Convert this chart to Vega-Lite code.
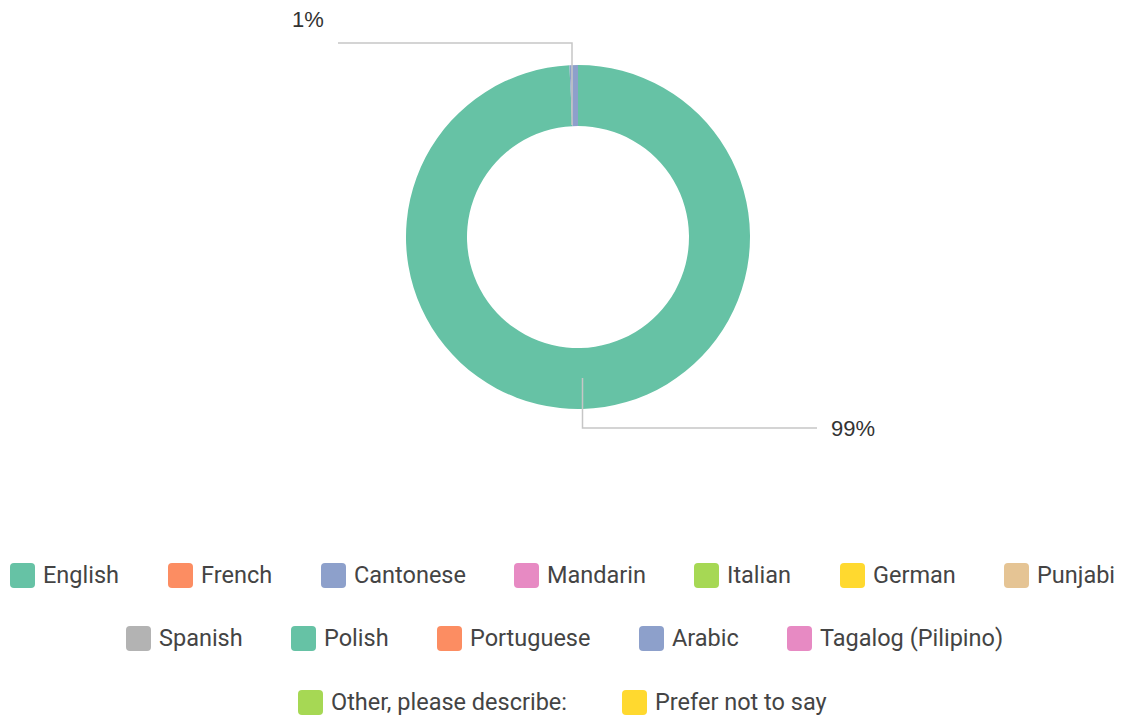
{
  "$schema": "https://vega.github.io/schema/vega-lite/v6.json",
  "width": 1125,
  "height": 717,
  "padding": 0,
  "autosize": {"type": "none"},
  "background": "white",
  "config": {
    "view": {"stroke": null},
    "legend": {
      "orient": "none",
      "direction": "horizontal",
      "title": null,
      "padding": 0,
      "symbolType": "M-0.68,-1H0.68Q1,-1 1,-0.68V0.68Q1,1 0.68,1H-0.68Q-1,1 -1,0.68V-0.68Q-1,-1 -0.68,-1Z",
      "symbolSize": 625,
      "symbolOpacity": 1,
      "symbolStrokeWidth": 0,
      "labelFont": "Roboto",
      "labelFontSize": 23.5,
      "labelColor": "#444444",
      "labelOffset": 8,
      "labelLimit": 0,
      "columnPadding": 48
    }
  },
  "datasets": {
    "languages": [
      {"language": "English", "share": 99.2},
      {"language": "French", "share": 0},
      {"language": "Cantonese", "share": 0.8},
      {"language": "Mandarin", "share": 0},
      {"language": "Italian", "share": 0},
      {"language": "German", "share": 0},
      {"language": "Punjabi", "share": 0},
      {"language": "Spanish", "share": 0},
      {"language": "Polish", "share": 0},
      {"language": "Portuguese", "share": 0},
      {"language": "Arabic", "share": 0},
      {"language": "Tagalog (Pilipino)", "share": 0},
      {"language": "Other, please describe:", "share": 0},
      {"language": "Prefer not to say", "share": 0}
    ],
    "leaders": [
      {"label": "1%", "step": 1, "lx": -0.06, "ly": 1.12},
      {"label": "1%", "step": 2, "lx": -0.06, "ly": 1.94},
      {"label": "1%", "step": 3, "lx": -2.40, "ly": 1.94},
      {"label": "99%", "step": 1, "lx": 0.045, "ly": -1.41},
      {"label": "99%", "step": 2, "lx": 0.045, "ly": -1.91},
      {"label": "99%", "step": 3, "lx": 2.39, "ly": -1.91}
    ],
    "labels": [
      {"label": "1%", "tx": -2.86, "ty": 2.17},
      {"label": "99%", "tx": 2.53, "ty": -1.92}
    ]
  },
  "layer": [
    {
      "data": {"name": "languages"},
      "mark": {"type": "arc", "outerRadius": 172, "innerRadius": 111},
      "encoding": {
        "theta": {"field": "share", "type": "quantitative", "stack": true},
        "order": {"field": "share", "sort": "descending"},
        "x": {"datum": 0, "type": "quantitative", "scale": {"domain": [-5.78, 5.47], "nice": false, "zero": false}, "axis": null},
        "y": {"datum": 0, "type": "quantitative", "scale": {"domain": [-4.80, 2.37], "nice": false, "zero": false}, "axis": null},
        "color": {
          "field": "language",
          "type": "nominal",
          "legend": null,
          "scale": {
            "domain": ["English", "French", "Cantonese", "Mandarin", "Italian", "German", "Punjabi", "Spanish", "Polish", "Portuguese", "Arabic", "Tagalog (Pilipino)", "Other, please describe:", "Prefer not to say"],
            "range": ["#66c2a5", "#fc8d62", "#8da0cb", "#e78ac3", "#a6d854", "#ffd92f", "#e5c494", "#b3b3b3", "#66c2a5", "#fc8d62", "#8da0cb", "#e78ac3", "#a6d854", "#ffd92f"]
          }
        }
      }
    },
    {
      "data": {"name": "leaders"},
      "mark": {"type": "line", "color": "#c6c6c6", "strokeWidth": 1.5},
      "encoding": {
        "x": {"field": "lx", "type": "quantitative", "scale": {"domain": [-5.78, 5.47], "nice": false, "zero": false}, "axis": null},
        "y": {"field": "ly", "type": "quantitative", "scale": {"domain": [-4.80, 2.37], "nice": false, "zero": false}, "axis": null},
        "detail": {"field": "label"},
        "order": {"field": "step", "type": "quantitative"}
      }
    },
    {
      "data": {"name": "labels"},
      "mark": {"type": "text", "align": "left", "baseline": "middle", "font": "Liberation Sans", "fontSize": 22, "color": "#333333"},
      "encoding": {
        "x": {"field": "tx", "type": "quantitative", "scale": {"domain": [-5.78, 5.47], "nice": false, "zero": false}, "axis": null},
        "y": {"field": "ty", "type": "quantitative", "scale": {"domain": [-4.80, 2.37], "nice": false, "zero": false}, "axis": null},
        "text": {"field": "label"}
      }
    },
    {
      "data": {"name": "languages"},
      "transform": [{"filter": {"field": "language", "oneOf": ["English", "French", "Cantonese", "Mandarin", "Italian", "German", "Punjabi"]}}],
      "mark": {"type": "point", "shape": "square", "filled": true, "opacity": 0},
      "encoding": {
        "color": {
          "field": "language",
          "type": "nominal",
          "scale": {"domain": ["English", "French", "Cantonese", "Mandarin", "Italian", "German", "Punjabi"], "range": ["#66c2a5", "#fc8d62", "#8da0cb", "#e78ac3", "#a6d854", "#ffd92f", "#e5c494"]},
          "legend": {"legendX": 10, "legendY": 563}
        }
      }
    },
    {
      "data": {"name": "languages"},
      "transform": [{"filter": {"field": "language", "oneOf": ["Spanish", "Polish", "Portuguese", "Arabic", "Tagalog (Pilipino)"]}}],
      "mark": {"type": "point", "shape": "square", "filled": true, "opacity": 0},
      "encoding": {
        "color": {
          "field": "language",
          "type": "nominal",
          "scale": {"domain": ["Spanish", "Polish", "Portuguese", "Arabic", "Tagalog (Pilipino)"], "range": ["#b3b3b3", "#66c2a5", "#fc8d62", "#8da0cb", "#e78ac3"]},
          "legend": {"legendX": 126, "legendY": 626}
        }
      }
    },
    {
      "data": {"name": "languages"},
      "transform": [{"filter": {"field": "language", "oneOf": ["Other, please describe:", "Prefer not to say"]}}],
      "mark": {"type": "point", "shape": "square", "filled": true, "opacity": 0},
      "encoding": {
        "color": {
          "field": "language",
          "type": "nominal",
          "scale": {"domain": ["Other, please describe:", "Prefer not to say"], "range": ["#a6d854", "#ffd92f"]},
          "legend": {"legendX": 298, "legendY": 690, "columnPadding": 54}
        }
      }
    }
  ],
  "resolve": {"scale": {"color": "independent"}, "legend": {"color": "independent"}}
}
